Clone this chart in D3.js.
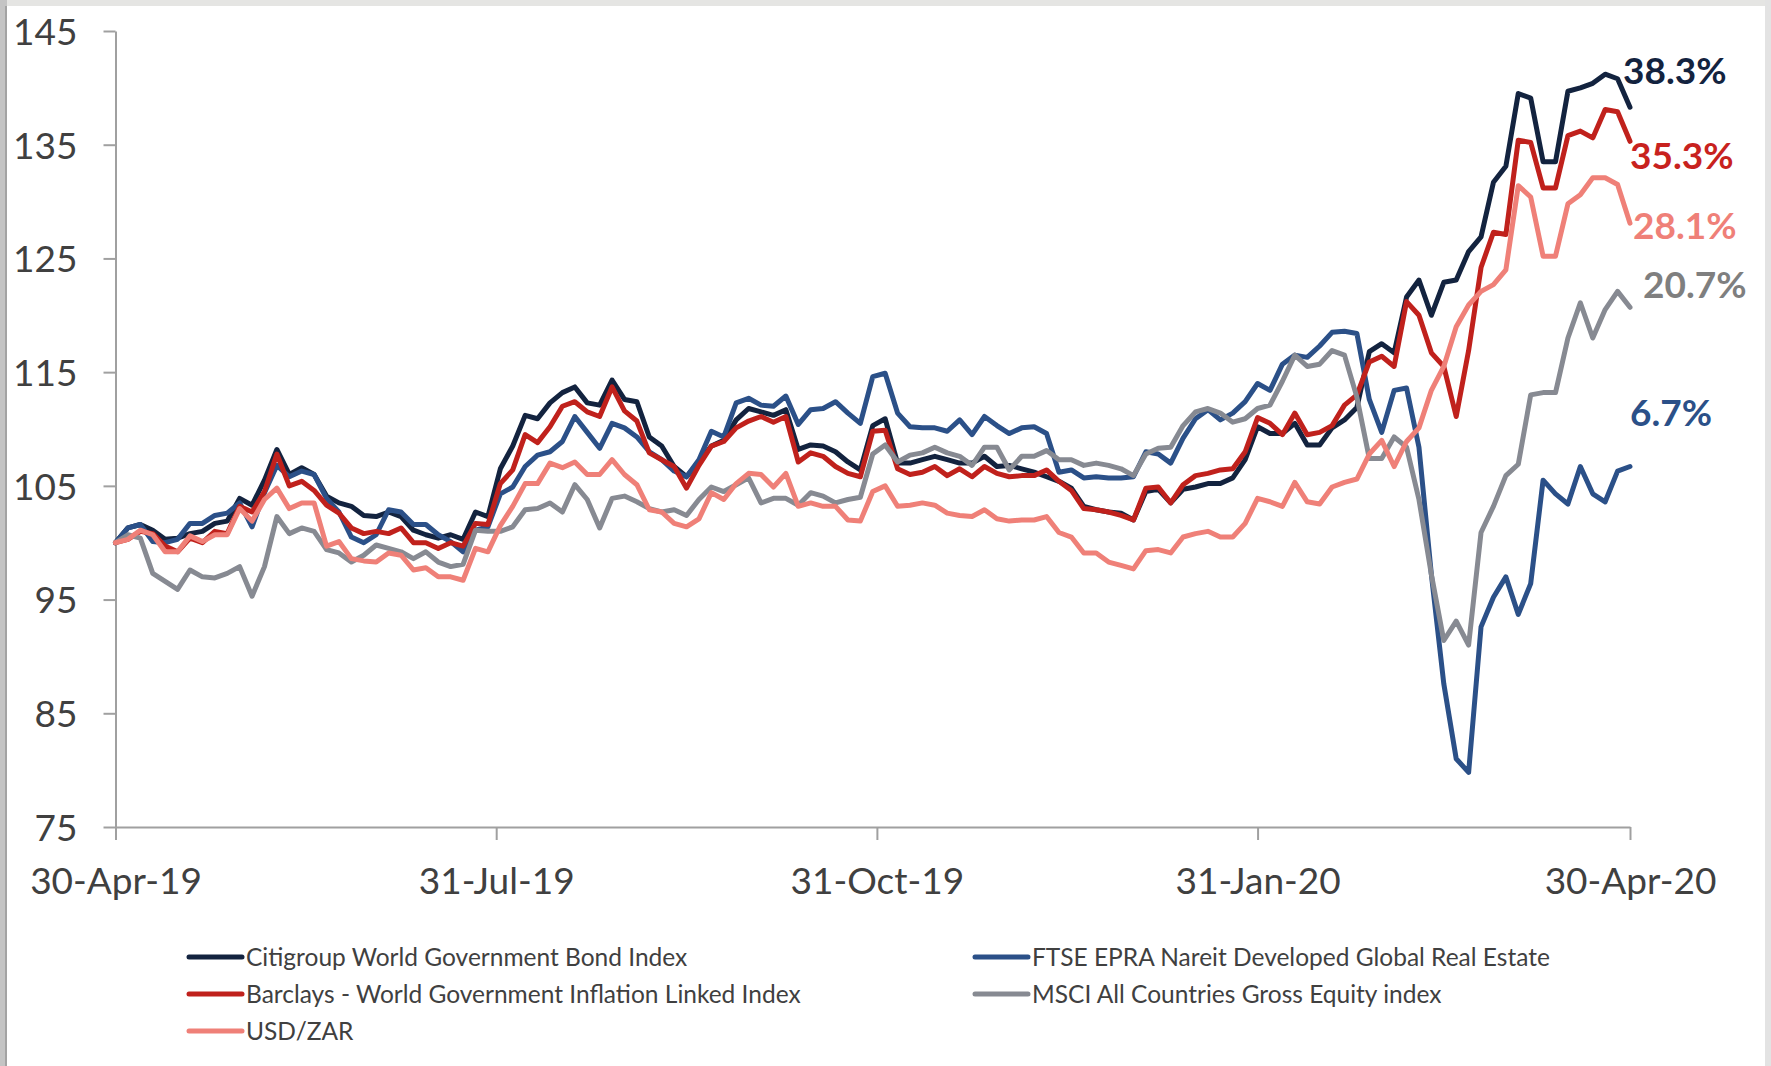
<!DOCTYPE html>
<html>
<head>
<meta charset="utf-8">
<script src="https://cdn.jsdelivr.net/npm/d3@7"></script>
<style>
  body { margin: 0; background: #ffffff; }
  svg { display: block; font-family: Lato, "Open Sans", "DejaVu Sans", sans-serif; }
</style>
</head>
<body>
<svg id="chart" width="1771" height="1066"></svg>
<script>
// Observation dates (every third calendar day, 30-Apr-19 to 30-Apr-20)
const dates = [
  "2019-04-30","2019-05-03","2019-05-06","2019-05-09","2019-05-12","2019-05-15","2019-05-18","2019-05-21","2019-05-24","2019-05-27",
  "2019-05-30","2019-06-02","2019-06-05","2019-06-08","2019-06-11","2019-06-14","2019-06-17","2019-06-20","2019-06-23","2019-06-26",
  "2019-06-29","2019-07-02","2019-07-05","2019-07-08","2019-07-11","2019-07-14","2019-07-17","2019-07-20","2019-07-23","2019-07-26",
  "2019-07-29","2019-08-01","2019-08-04","2019-08-07","2019-08-10","2019-08-13","2019-08-16","2019-08-19","2019-08-22","2019-08-25",
  "2019-08-28","2019-08-31","2019-09-03","2019-09-06","2019-09-09","2019-09-12","2019-09-15","2019-09-18","2019-09-21","2019-09-24",
  "2019-09-27","2019-09-30","2019-10-03","2019-10-06","2019-10-09","2019-10-12","2019-10-15","2019-10-18","2019-10-21","2019-10-24",
  "2019-10-27","2019-10-30","2019-11-02","2019-11-05","2019-11-08","2019-11-11","2019-11-14","2019-11-17","2019-11-20","2019-11-23",
  "2019-11-26","2019-11-29","2019-12-02","2019-12-05","2019-12-08","2019-12-11","2019-12-14","2019-12-17","2019-12-20","2019-12-23",
  "2019-12-26","2019-12-29","2020-01-01","2020-01-04","2020-01-07","2020-01-10","2020-01-13","2020-01-16","2020-01-19","2020-01-22",
  "2020-01-25","2020-01-28","2020-01-31","2020-02-03","2020-02-06","2020-02-09","2020-02-12","2020-02-15","2020-02-18","2020-02-21",
  "2020-02-24","2020-02-27","2020-03-01","2020-03-04","2020-03-07","2020-03-10","2020-03-13","2020-03-16","2020-03-19","2020-03-22",
  "2020-03-25","2020-03-28","2020-03-31","2020-04-03","2020-04-06","2020-04-09","2020-04-12","2020-04-15","2020-04-18","2020-04-21",
  "2020-04-24","2020-04-27","2020-04-30"
];

// Rebased index levels (30-Apr-19 = 100), in ZAR
const citigroupWGBI = [
  100.0,101.3,101.6,101.1,100.3,100.4,100.8,101.0,101.7,101.9,
  103.9,103.3,105.5,108.2,106.0,106.6,106.0,104.1,103.5,103.2,
  102.4,102.3,102.7,102.3,101.1,100.7,100.4,100.7,100.3,102.7,
  102.3,106.5,108.5,111.2,110.9,112.3,113.2,113.7,112.3,112.1,
  114.3,112.6,112.4,109.3,108.5,106.7,105.8,107.1,108.5,109.0,
  110.8,111.8,111.5,111.2,111.7,108.2,108.6,108.5,108.0,107.1,
  106.4,110.3,110.9,107.0,107.0,107.3,107.6,107.3,107.0,107.0,
  107.6,106.7,106.8,106.5,106.2,105.8,105.4,104.8,103.2,102.9,
  102.7,102.6,102.0,104.5,104.7,103.5,104.7,104.9,105.2,105.2,
  105.7,107.3,110.2,109.6,109.6,110.5,108.6,108.6,110.1,110.8,
  111.9,116.8,117.5,116.7,121.6,123.1,120.0,122.9,123.1,125.6,
  126.9,131.7,133.1,139.5,139.1,133.5,133.5,139.7,140.0,140.4,
  141.2,140.8,138.3
];

const ftseEpraNareit = [
  100.0,101.3,101.6,100.1,100.0,100.3,101.7,101.7,102.4,102.6,
  103.5,101.4,104.4,106.8,105.8,106.3,106.0,103.9,102.7,100.5,
  100.0,100.7,102.9,102.7,101.6,101.6,100.7,100.1,99.2,101.1,
  101.4,104.3,104.9,106.7,107.7,108.0,108.9,111.1,109.7,108.3,
  110.5,110.1,109.3,108.0,107.3,106.3,105.8,107.3,109.8,109.3,
  112.3,112.7,112.1,112.0,112.9,110.4,111.7,111.8,112.4,111.4,
  110.5,114.6,114.9,111.4,110.2,110.1,110.1,109.8,110.8,109.5,
  111.1,110.3,109.6,110.1,110.2,109.6,106.2,106.4,105.7,105.8,
  105.7,105.7,105.8,108.0,107.8,107.0,109.2,110.9,111.7,110.8,
  111.4,112.4,114.0,113.4,115.7,116.5,116.3,117.3,118.5,118.6,
  118.4,112.6,109.7,113.4,113.6,108.4,97.2,87.6,81.0,79.8,
  92.6,95.2,97.0,93.7,96.4,105.5,104.3,103.4,106.7,104.3,
  103.6,106.3,106.7
];

const barclaysWGILB = [
  100.0,100.3,101.0,100.8,99.7,99.2,100.4,100.0,101.0,100.8,
  103.2,102.7,104.5,107.8,105.0,105.4,104.6,103.3,102.6,101.3,
  100.8,101.0,100.8,101.3,100.0,100.0,99.5,100.0,99.7,101.7,
  101.6,105.2,106.4,109.5,108.8,110.2,112.0,112.4,111.5,111.1,
  113.7,111.6,110.7,107.9,107.3,106.7,104.8,106.8,108.5,108.9,
  110.1,110.7,111.1,110.6,111.1,107.1,107.9,107.6,106.7,106.1,
  105.8,109.8,109.9,106.5,106.0,106.2,106.7,105.9,106.5,105.8,
  106.7,106.1,105.8,105.9,105.9,106.4,105.4,104.6,103.0,102.9,
  102.7,102.4,102.0,104.8,104.9,103.5,105.1,105.9,106.1,106.4,
  106.5,108.0,111.0,110.5,109.5,111.4,109.5,109.7,110.3,112.1,
  113.0,115.9,116.4,115.5,121.2,120.0,116.7,115.5,111.1,116.9,
  124.2,127.3,127.1,135.4,135.2,131.2,131.2,135.8,136.2,135.6,
  138.1,137.9,135.3
];

const msciAcwi = [
  100.0,100.7,100.4,97.3,96.6,95.9,97.6,97.0,96.9,97.3,
  97.9,95.3,97.9,102.3,100.8,101.3,101.0,99.4,99.1,98.3,
  98.9,99.8,99.5,99.2,98.6,99.2,98.3,97.9,98.1,101.1,
  101.0,101.0,101.4,102.9,103.0,103.5,102.7,105.1,103.8,101.3,
  103.9,104.1,103.6,103.0,102.7,102.9,102.4,103.8,104.9,104.5,
  105.1,105.7,103.5,103.9,103.9,103.3,104.4,104.1,103.5,103.8,
  104.0,107.8,108.6,107.1,107.7,107.9,108.4,107.9,107.6,106.8,
  108.4,108.4,106.4,107.6,107.6,108.1,107.3,107.3,106.8,107.0,
  106.8,106.5,105.9,107.8,108.3,108.4,110.3,111.5,111.8,111.4,
  110.6,110.9,111.8,112.1,114.2,116.5,115.5,115.7,116.9,116.5,
  112.8,107.4,107.4,109.3,108.4,103.8,97.2,91.4,93.1,91.0,
  100.9,103.2,105.9,106.9,113.0,113.2,113.2,118.0,121.1,118.0,
  120.5,122.1,120.7
];

const usdZar = [
  100.0,100.3,101.1,100.7,99.2,99.2,100.6,100.1,100.7,100.7,
  103.0,101.9,103.8,104.8,103.0,103.5,103.5,99.7,100.1,98.6,
  98.4,98.3,99.1,98.9,97.6,97.8,97.0,97.0,96.7,99.5,
  99.2,101.5,103.2,105.2,105.2,107.0,106.6,107.1,106.0,106.0,
  107.3,106.0,105.1,102.9,102.7,101.7,101.4,102.1,104.4,103.8,
  105.2,106.1,106.0,104.9,106.1,103.2,103.5,103.2,103.2,102.0,
  101.9,104.5,105.0,103.2,103.3,103.5,103.3,102.6,102.4,102.3,
  102.9,102.1,101.9,102.0,102.0,102.3,100.9,100.5,99.1,99.1,
  98.3,98.0,97.7,99.3,99.4,99.1,100.5,100.8,101.0,100.5,
  100.5,101.7,103.9,103.6,103.2,105.3,103.6,103.4,104.9,105.3,
  105.6,107.8,109.0,106.7,108.9,110.1,113.4,115.5,119.0,120.9,
  122.1,122.7,124.0,131.4,130.4,125.2,125.2,129.8,130.6,132.1,
  132.1,131.5,128.1
];

const seriesNames = [
  "Citigroup World Government Bond Index",
  "FTSE EPRA Nareit Developed Global Real Estate",
  "Barclays - World Government Inflation Linked Index",
  "MSCI All Countries Gross Equity index",
  "USD/ZAR"
];

const yTicks = [75, 85, 95, 105, 115, 125, 135, 145];
const xTicks = ["2019-04-30", "2019-07-31", "2019-10-31", "2020-01-31", "2020-04-30"];

// ---- drawing ----
const FONT = 'Lato, "Open Sans", "DejaVu Sans", sans-serif';
const parse = d3.timeParse("%Y-%m-%d");
const fmt = d3.timeFormat("%d-%b-%y");
const dateObjs = dates.map(parse);

const series = [
  { name: seriesNames[0], values: citigroupWGBI,  color: "#13233f", labelColor: "#13233f", dx: -7, dy: -37 },
  { name: seriesNames[1], values: ftseEpraNareit, color: "#2b5088", labelColor: "#2b5088", dx: 0,  dy: -54 },
  { name: seriesNames[2], values: barclaysWGILB,  color: "#c0211c", labelColor: "#c8221e", dx: 0,  dy: 14 },
  { name: seriesNames[3], values: msciAcwi,       color: "#878a92", labelColor: "#7f7f7f", dx: 13, dy: -23 },
  { name: seriesNames[4], values: usdZar,         color: "#ef8078", labelColor: "#ef8078", dx: 3,  dy: 3 }
];

const svg = d3.select("#chart");

// frame edges
svg.append("rect").attr("x", 0).attr("y", 0).attr("width", 1771).attr("height", 1066).attr("fill", "#ffffff");
svg.append("rect").attr("x", 0).attr("y", 0).attr("width", 1771).attr("height", 6).attr("fill", "#e5e5e3");
svg.append("rect").attr("x", 0).attr("y", 0).attr("width", 7).attr("height", 1066).attr("fill", "#c4c4c4");
svg.append("rect").attr("x", 5).attr("y", 6).attr("width", 2).attr("height", 1060).attr("fill", "#a3a3a3");
svg.append("rect").attr("x", 1765).attr("y", 0).attr("width", 6).attr("height", 1066).attr("fill", "#e3e3e3");

const x = d3.scaleTime()
  .domain([parse(xTicks[0]), parse(xTicks[xTicks.length - 1])])
  .range([115.5, 1630]);
const y = d3.scaleLinear().domain([75, 145]).range([827, 31]);

const axisColor = "#a0a0a0";
const textColor = "#404040";

// y axis
const gy = svg.append("g").attr("transform", "translate(115.5,0)")
  .call(d3.axisLeft(y).tickValues(yTicks).tickSize(12).tickSizeOuter(0).tickPadding(26).tickFormat(d3.format("d")))
  .attr("font-family", FONT);
gy.select(".domain").attr("stroke", axisColor).attr("stroke-width", 2);
gy.selectAll(".tick line").attr("stroke", axisColor).attr("stroke-width", 2);
gy.selectAll(".tick text").attr("fill", textColor).style("font-size", "37px").attr("dy", "0.36em");

// x axis
const gx = svg.append("g").attr("transform", "translate(0,827)")
  .call(d3.axisBottom(x).tickValues(xTicks.map(parse)).tickSize(13).tickSizeOuter(0).tickPadding(28).tickFormat(fmt))
  .attr("font-family", FONT);
gx.select(".domain").attr("stroke", axisColor).attr("stroke-width", 2);
gx.selectAll(".tick line").attr("stroke", axisColor).attr("stroke-width", 2);
gx.selectAll(".tick text").attr("fill", textColor).style("font-size", "37px").attr("y", 54).attr("dy", "0.36em");

// lines
const line = d3.line()
  .x((d, i) => x(dateObjs[i]))
  .y(d => y(d));

svg.append("g").selectAll("path").data(series).join("path")
  .attr("d", s => line(s.values))
  .attr("fill", "none")
  .attr("stroke", s => s.color)
  .attr("stroke-width", 5)
  .attr("stroke-linejoin", "round")
  .attr("stroke-linecap", "round");

// end-of-period return labels
const lastDate = dateObjs[dateObjs.length - 1];
svg.append("g").attr("font-family", FONT).selectAll("text").data(series).join("text")
  .attr("x", s => x(lastDate) + s.dx)
  .attr("y", s => y(s.values[s.values.length - 1]) + s.dy)
  .attr("dy", "0.36em")
  .attr("fill", s => s.labelColor)
  .style("font-size", "37px")
  .style("font-weight", "bold")
  .text(s => (s.values[s.values.length - 1] - 100).toFixed(1) + "%");

// legend: row-major over two columns
const legendCols = [189, 975];
const legendRows = [957, 994, 1031];
const legend = svg.append("g").attr("font-family", FONT).selectAll("g").data(series).join("g")
  .attr("transform", (s, i) => `translate(${legendCols[i % 2]},${legendRows[Math.floor(i / 2)]})`);
legend.append("line")
  .attr("x1", 0).attr("x2", 53).attr("y1", 0).attr("y2", 0)
  .attr("stroke", s => s.color).attr("stroke-width", 5).attr("stroke-linecap", "round");
legend.append("text")
  .attr("x", 57).attr("y", 0).attr("dy", "0.36em")
  .attr("fill", textColor)
  .style("font-size", "24.5px")
  .text(s => s.name);
</script>
</body>
</html>
